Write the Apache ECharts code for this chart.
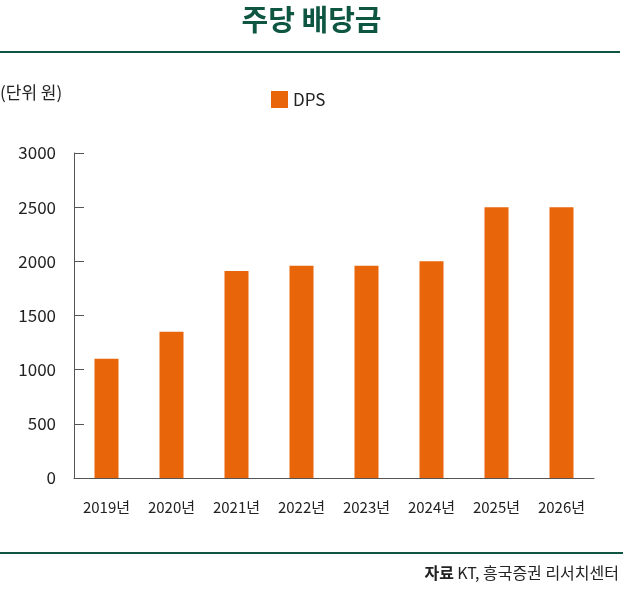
<!doctype html>
<html>
<head>
<meta charset="UTF-8">
<title>주당 배당금</title>
<script src="https://cdn.jsdelivr.net/npm/echarts@6/dist/echarts.min.js"></script>
<style>
  body { margin: 0; background: #fff; }
  #main { width: 623px; height: 590px; }
</style>
</head>
<body>
<div id="main"></div>
<script>
var years = ['2019년', '2020년', '2021년', '2022년', '2023년', '2024년', '2025년', '2026년'];
var dps = [1100, 1350, 1910, 1960, 1960, 2000, 2500, 2500];
var yTicks = [0, 500, 1000, 1500, 2000, 2500, 3000];

var font = '"Noto Sans CJK KR", "Noto Sans", sans-serif';
var green = '#0e5642';
var chart = echarts.init(document.getElementById('main'));

chart.setOption({
    textStyle: { fontFamily: font },
    title: {
        text: '주당 배당금',
        left: 'center',
        top: 0,
        textStyle: { fontSize: 29, fontWeight: 'bold', color: green, fontFamily: font }
    },
    graphic: [
        { type: 'line', shape: { x1: 0, y1: 52, x2: 620, y2: 52 }, style: { stroke: green, lineWidth: 2 } },
        { type: 'line', shape: { x1: 0, y1: 553, x2: 623, y2: 553 }, style: { stroke: green, lineWidth: 2 } },
        { type: 'text', left: 0, top: 84, style: { text: '(단위 원)', fontSize: 17, fill: '#222', fontFamily: font } },
        { type: 'text', right: 4, top: 565, style: { rich: {
            b: { fontWeight: 'bold', fontSize: 16, fill: '#222', fontFamily: font },
            n: { fontSize: 16, fill: '#222', fontFamily: font }
        }, text: '{b|자료} {n|KT, 흥국증권 리서치센터}' } }
    ],
    legend: {
        data: ['DPS'],
        left: 266,
        top: 86,
        itemWidth: 17,
        itemHeight: 17,
        icon: 'rect',
        textStyle: { fontSize: 17, color: '#222' }
    },
    grid: { left: 74, right: 29, top: 153, bottom: 112 },
    xAxis: {
        type: 'category',
        data: years,
        axisLine: { lineStyle: { color: '#555' } },
        axisTick: { inside: true, length: 8, lineStyle: { color: '#555' } },
        axisLabel: { interval: 0, fontSize: 15, color: '#222', margin: 22, letterSpacing: -1.2 }
    },
    yAxis: {
        type: 'value',
        min: yTicks[0],
        max: yTicks[yTicks.length - 1],
        interval: 500,
        splitLine: { show: false },
        axisLine: { show: true, lineStyle: { color: '#555' } },
        axisTick: { show: true, inside: true, length: 10, lineStyle: { color: '#555' } },
        axisLabel: { fontSize: 17, color: '#222', margin: 18, formatter: function (v) { return String(v); } }
    },
    series: [{
        name: 'DPS',
        type: 'bar',
        data: dps,
        barWidth: 24,
        itemStyle: { color: '#e8650a' }
    }]
});
</script>
</body>
</html>
